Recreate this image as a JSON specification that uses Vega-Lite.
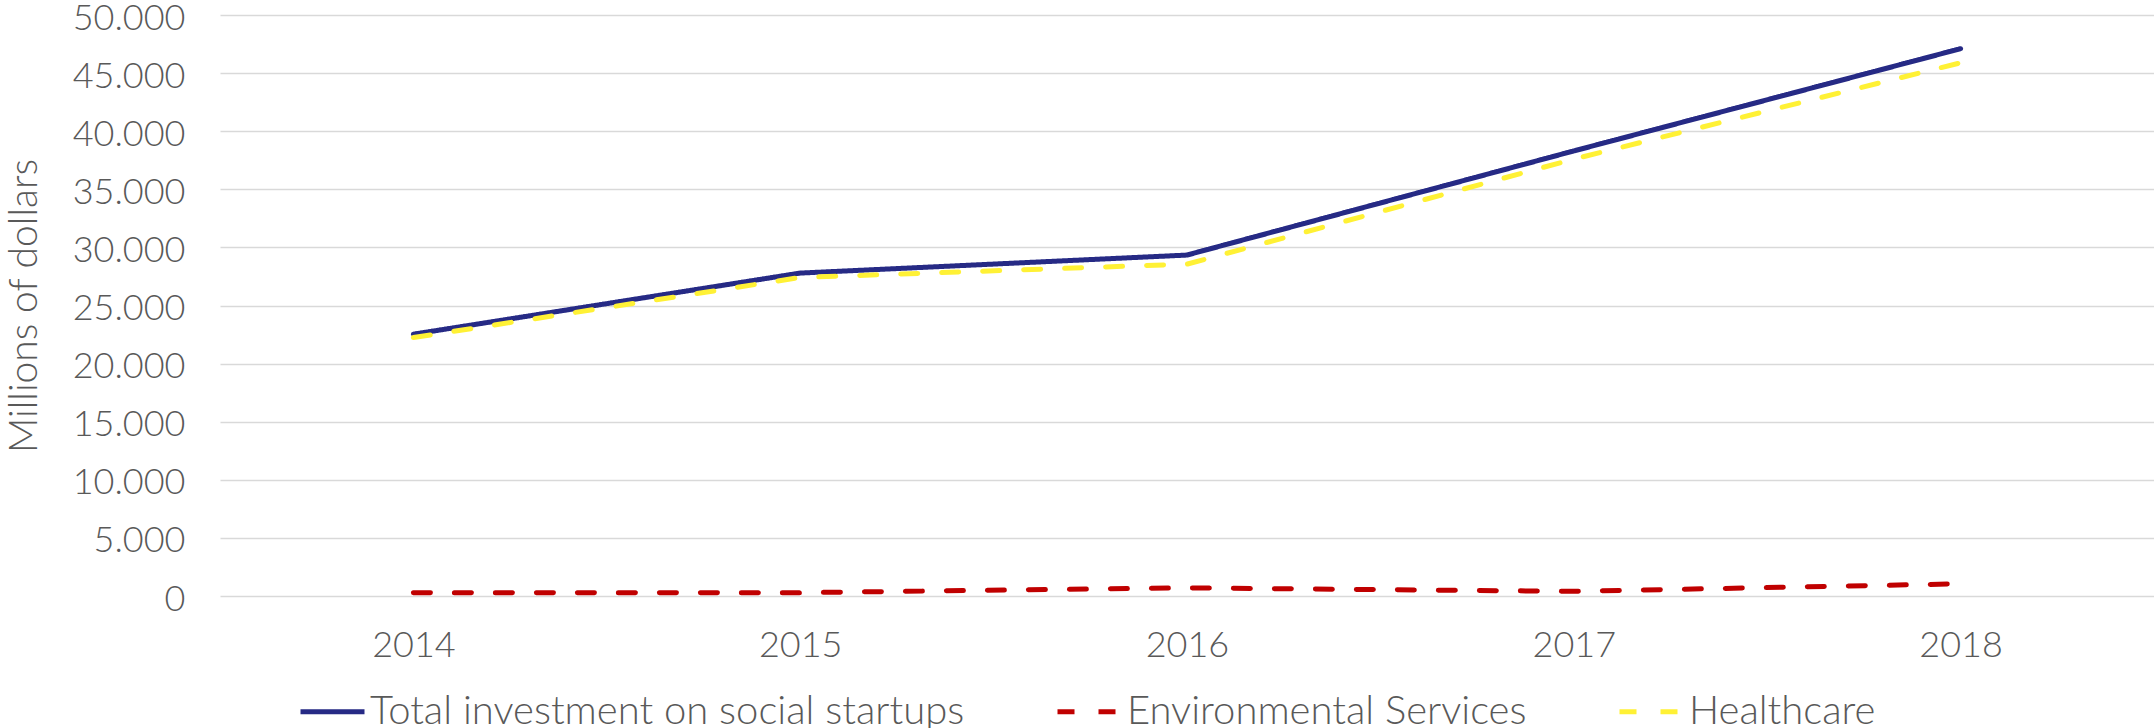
{
  "$schema": "https://vega.github.io/schema/vega-lite/v6.json",
  "width": 1934,
  "height": 581,
  "autosize": {"type": "none"},
  "padding": {"left": 220, "top": 15, "right": 0, "bottom": 132},
  "background": "white",
  "config": {
    "locale": {"number": {"decimal": ",", "thousands": ".", "grouping": [3], "currency": ["", ""]}},
    "view": {"stroke": null},
    "font": "Lato"
  },
  "data": {
    "values": [
      {"year": "2014", "series": "Total investment on social startups", "value": 22530},
      {"year": "2015", "series": "Total investment on social startups", "value": 27790},
      {"year": "2016", "series": "Total investment on social startups", "value": 29340},
      {"year": "2017", "series": "Total investment on social startups", "value": 38300},
      {"year": "2018", "series": "Total investment on social startups", "value": 47100},
      {"year": "2014", "series": "Environmental Services", "value": 270},
      {"year": "2015", "series": "Environmental Services", "value": 290},
      {"year": "2016", "series": "Environmental Services", "value": 700},
      {"year": "2017", "series": "Environmental Services", "value": 400},
      {"year": "2018", "series": "Environmental Services", "value": 1050},
      {"year": "2014", "series": "Healthcare", "value": 22240},
      {"year": "2015", "series": "Healthcare", "value": 27410},
      {"year": "2016", "series": "Healthcare", "value": 28560},
      {"year": "2017", "series": "Healthcare", "value": 37600},
      {"year": "2018", "series": "Healthcare", "value": 45890}
    ]
  },
  "mark": {"type": "line", "strokeWidth": 5, "strokeCap": "round", "strokeJoin": "round"},
  "encoding": {
    "x": {
      "field": "year", "type": "ordinal",
      "scale": {"type": "point", "padding": 0.5},
      "axis": {"title": null, "labelAngle": 0, "domain": false, "ticks": false, "grid": false,
        "labelFontSize": 36, "labelColor": "#595959", "labelPadding": 32, "labelFontWeight": 300}
    },
    "y": {
      "field": "value", "type": "quantitative",
      "scale": {"domain": [0, 50000], "nice": false},
      "axis": {"values": [0, 5000, 10000, 15000, 20000, 25000, 30000, 35000, 40000, 45000, 50000],
        "format": ",.0f", "title": "Millions of dollars", "domain": false, "ticks": false,
        "gridColor": "#D9D9D9", "gridWidth": 1.5,
        "labelFontSize": 36, "labelColor": "#595959", "labelPadding": 35, "labelFontWeight": 300, "labelOffset": 3,
        "titleFontSize": 39, "titleFontWeight": 300, "titleColor": "#595959", "titlePadding": 28}
    },
    "color": {
      "field": "series", "type": "nominal",
      "scale": {"domain": ["Total investment on social startups", "Environmental Services", "Healthcare"],
        "range": ["#262A85", "#C00000", "#FFF135"]},
      "legend": {"title": null, "orient": "none", "direction": "horizontal", "legendX": 78, "legendY": 662,
        "symbolType": "stroke", "symbolSize": 4096, "symbolStrokeWidth": 5,
        "labelFontSize": 40, "labelColor": "#595959", "labelFontWeight": 300, "labelOffset": 3,
        "columnPadding": 82, "padding": 0, "labelLimit": 0}
    },
    "strokeDash": {
      "field": "series", "type": "nominal",
      "scale": {"domain": ["Total investment on social startups", "Environmental Services", "Healthcare"],
        "range": [[1, 0], [17, 24], [17, 24]]},
      "legend": {"title": null, "orient": "none", "direction": "horizontal", "legendX": 78, "legendY": 662,
        "symbolType": "stroke", "symbolSize": 4096, "symbolStrokeWidth": 5,
        "labelFontSize": 40, "labelColor": "#595959", "labelFontWeight": 300, "labelOffset": 3,
        "columnPadding": 82, "padding": 0, "labelLimit": 0}
    }
  }
}
